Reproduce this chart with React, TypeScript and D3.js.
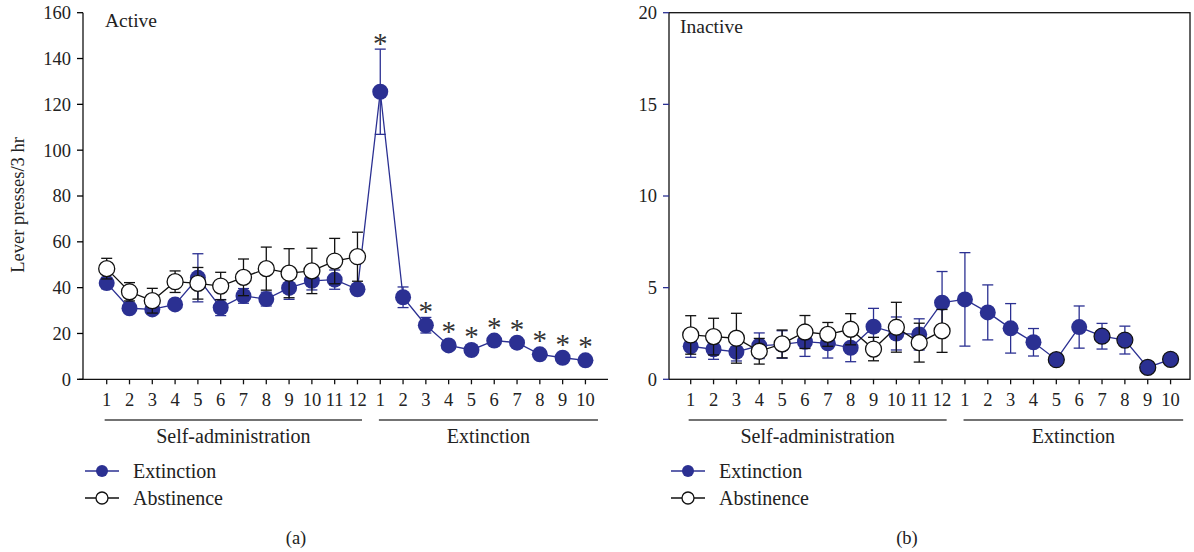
import React from 'react';
import * as d3 from 'd3';

const sessionLabels = ['1','2','3','4','5','6','7','8','9','10','11','12','1','2','3','4','5','6','7','8','9','10'];
const groupNames = ['Self-administration', 'Extinction'];
const seriesNames = ['Extinction', 'Abstinence'];

// Active lever (panel a)
const activeExtMean = [42, 31, 30.5, 32.7, 44.3, 31.3, 36.4, 35, 39.9, 43, 43.5, 39.3, 125.5, 35.8, 23.6, 14.8, 12.8, 16.9, 16, 10.9, 9.4, 8.3];
const activeExtSem = [2.5, 1.5, 2, 1, 10.5, 3.5, 3.2, 3, 5, 4, 4.2, 1.5, 18.6, 4.5, 3.4, 1, 1, 1, 1, 1, 1, 1];
const activeAbsMean = [48.3, 38.2, 34.3, 42.6, 41.9, 40.7, 44.5, 48.3, 46.3, 47.3, 51.6, 53.5];
const activeAbsSem = [4.5, 4, 5.4, 4.7, 6.9, 6, 8, 9.4, 10.7, 9.9, 9.9, 10.7];
const activeStars = [12, 14, 15, 16, 17, 18, 19, 20, 21];
const activeTicks = [0, 20, 40, 60, 80, 100, 120, 140, 160];

// Inactive lever (panel b)
const inactiveExtMean = [1.8, 1.64, 1.5, 1.83, 1.9, 2.05, 1.96, 1.72, 2.87, 2.5, 2.45, 4.18, 4.36, 3.65, 2.78, 2.02, 1.07, 2.85, 2.35, 2.14, 0.65, 1.09];
const inactiveExtSem = [0.6, 0.55, 0.5, 0.7, 0.75, 0.8, 0.8, 0.76, 1.0, 0.9, 0.85, 1.7, 2.55, 1.5, 1.35, 0.75, 0, 1.15, 0.7, 0.76, 0, 0];
const inactiveAbsMean = [2.42, 2.33, 2.24, 1.53, 1.93, 2.58, 2.45, 2.73, 1.65, 2.84, 2.0, 2.64];
const inactiveAbsSem = [1.05, 1.0, 1.36, 0.7, 0.76, 0.9, 0.65, 0.85, 0.64, 1.36, 1.06, 1.17];
const inactiveOutlined = [16, 18, 19, 20, 21];
const inactiveTicks = [0, 5, 10, 15, 20];

const BLUE = '#2b3092';
const FONT = '"Liberation Serif", "Times New Roman", serif';

type PanelProps = {
  left: number; right: number; domain: [number, number]; yMax: number; ticks: number[];
  extMean: number[]; extSem: number[]; absMean: number[]; absSem: number[];
  stars: number[]; outlined: number[]; title: string; titleDx: number; titleY: number;
  boxed: boolean; blueYTicks: boolean; letter: string; letterX: number; yTitle?: string;
};

function Panel(p: PanelProps) {
  const top = 12.7, bottom = 379.3;
  const x = d3.scaleLinear().domain(p.domain).range([p.left, p.right]);
  const y = d3.scaleLinear().domain([0, p.yMax]).range([bottom, top]);
  const idx = sessionLabels.map((_, i) => i);
  const line = d3.line<number>().x((d, i) => x(i)).y(d => y(d));
  const r = 8;
  const cap = 5.5;
  const errBars = (mean: number[], sem: number[], color: string) =>
    mean.map((m, i) => sem[i] > 0 ? (
      <g key={i} stroke={color} strokeWidth={1.3}>
        <line x1={x(i)} x2={x(i)} y1={y(m + sem[i])} y2={y(Math.max(0, m - sem[i]))} />
        <line x1={x(i) - cap} x2={x(i) + cap} y1={y(m + sem[i])} y2={y(m + sem[i])} />
        <line x1={x(i) - cap} x2={x(i) + cap} y1={y(Math.max(0, m - sem[i]))} y2={y(Math.max(0, m - sem[i]))} />
      </g>
    ) : null);
  const g1 = [x(-0.09), x(11.2)];
  const g2 = [x(11.94), x(21.55)];
  const tickStroke = p.blueYTicks ? BLUE : '#000';
  return (
    <g fontFamily={FONT} fill="#222">
      {p.boxed ? (
        <rect x={p.left} y={top} width={p.right - p.left} height={bottom - top} fill="none" stroke="#111" strokeWidth={1.3} />
      ) : (
        <g stroke="#111" strokeWidth={1.3}>
          <line x1={p.left} x2={p.left} y1={top} y2={bottom} />
          <line x1={p.left - 4} x2={p.right} y1={bottom} y2={bottom} />
        </g>
      )}
      {p.ticks.map(t => (
        <g key={t}>
          <line x1={p.left - 6} x2={p.left} y1={y(t)} y2={y(t)} stroke={tickStroke} strokeWidth={1.3} />
          <text x={p.left - 12} y={y(t)} dy="0.35em" textAnchor="end" fontSize={18.5}>{t}</text>
        </g>
      ))}
      {idx.map(i => (
        <g key={i}>
          <line x1={x(i)} x2={x(i)} y1={bottom} y2={bottom + 5} stroke="#111" strokeWidth={1.3} />
          <text x={x(i)} y={406} textAnchor="middle" fontSize={18.5}>{sessionLabels[i]}</text>
        </g>
      ))}
      <line x1={g1[0]} x2={g1[1]} y1={420} y2={420} stroke="#444" strokeWidth={1.6} />
      <line x1={g2[0]} x2={g2[1]} y1={420} y2={420} stroke="#444" strokeWidth={1.6} />
      <text x={(g1[0] + g1[1]) / 2} y={443} textAnchor="middle" fontSize={20}>{groupNames[0]}</text>
      <text x={(g2[0] + g2[1]) / 2} y={443} textAnchor="middle" fontSize={20}>{groupNames[1]}</text>
      <text x={p.left + p.titleDx} y={p.titleY} fontSize={19.5}>{p.title}</text>
      {p.yTitle && (
        <text transform={`translate(24,205) rotate(-90)`} textAnchor="middle" fontSize={18.5}>{p.yTitle}</text>
      )}
      <path d={line(p.extMean) || ''} fill="none" stroke={BLUE} strokeWidth={1.3} />
      {errBars(p.extMean, p.extSem, BLUE)}
      {p.extMean.map((m, i) => (
        <circle key={i} cx={x(i)} cy={y(m)} r={r} fill={BLUE}
          stroke={p.outlined.includes(i) ? '#111' : 'none'} strokeWidth={1.2} />
      ))}
      <path d={line(p.absMean) || ''} fill="none" stroke="#111" strokeWidth={1.3} />
      {errBars(p.absMean, p.absSem, '#111')}
      {p.absMean.map((m, i) => (
        <circle key={i} cx={x(i)} cy={y(m)} r={r} fill="#fff" stroke="#111" strokeWidth={1.3} />
      ))}
      {p.stars.map(i => {
        const m = p.extMean[i];
        const yc = Math.min(y(m + p.extSem[i]), y(m) - r) - 9;
        return <text key={i} x={x(i)} y={yc + 13} textAnchor="middle" fontSize={29} fill="#333">*</text>;
      })}
      <g>
        <line x1={p.left + 2} x2={p.left + 36} y1={471} y2={471} stroke={BLUE} strokeWidth={1.3} />
        <circle cx={p.left + 19} cy={471} r={6} fill={BLUE} />
        <text x={p.left + 50} y={478} fontSize={20}>{seriesNames[0]}</text>
        <line x1={p.left + 2} x2={p.left + 36} y1={498} y2={498} stroke="#111" strokeWidth={1.3} />
        <circle cx={p.left + 19} cy={498} r={6} fill="#fff" stroke="#111" strokeWidth={1.3} />
        <text x={p.left + 50} y={505} fontSize={20}>{seriesNames[1]}</text>
      </g>
      <text x={p.letterX} y={544} textAnchor="middle" fontSize={18.5}>{p.letter}</text>
    </g>
  );
}

export default function App() {
  return (
    <svg width={1194} height={552} style={{ position: 'absolute', left: 0, top: 0, background: '#fff' }}>
      <Panel left={83} right={608} domain={[-1.04, 21.99]} yMax={160} ticks={activeTicks}
        extMean={activeExtMean} extSem={activeExtSem} absMean={activeAbsMean} absSem={activeAbsSem}
        stars={activeStars} outlined={[]} title="Active" titleDx={22} titleY={27} boxed={false} blueYTicks={false}
        letter="(a)" letterX={296} yTitle="Lever presses/3 hr" />
      <Panel left={669} right={1190} domain={[-0.95, 21.85]} yMax={20} ticks={inactiveTicks}
        extMean={inactiveExtMean} extSem={inactiveExtSem} absMean={inactiveAbsMean} absSem={inactiveAbsSem}
        stars={[]} outlined={inactiveOutlined} title="Inactive" titleDx={11} titleY={33} boxed={true} blueYTicks={true}
        letter="(b)" letterX={907} />
    </svg>
  );
}
